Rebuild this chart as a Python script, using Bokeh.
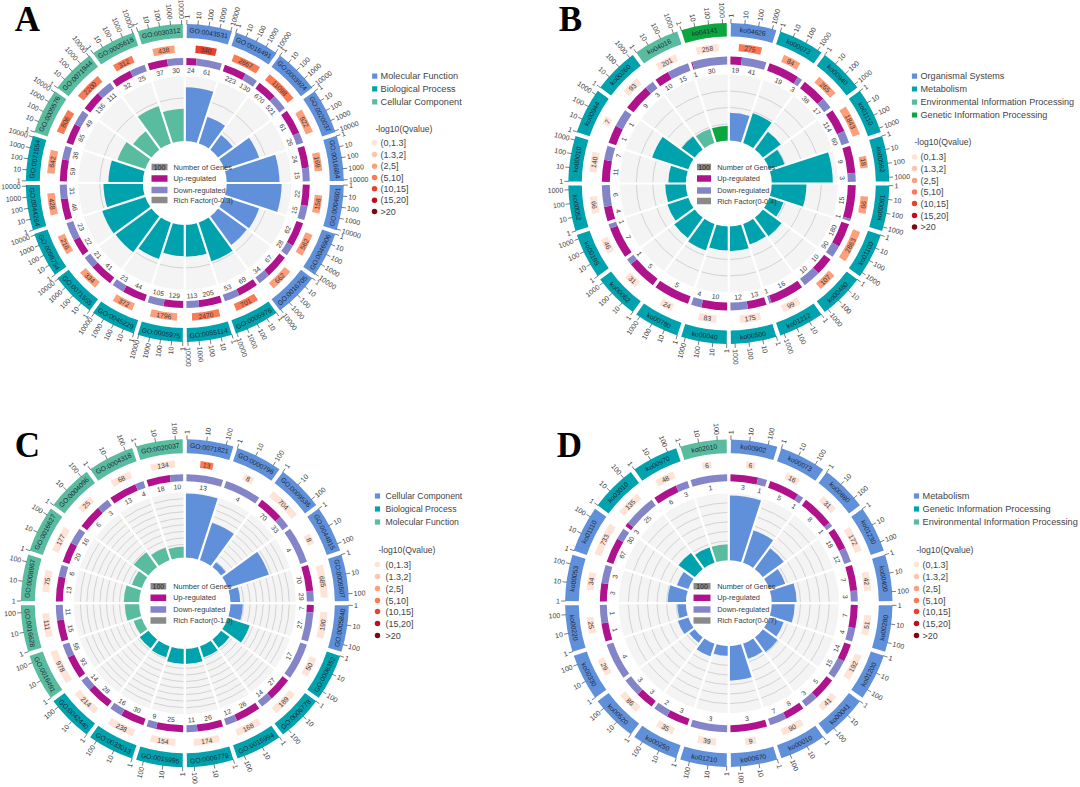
import math
from bokeh.plotting import figure
from bokeh.models import Range1d
from bokeh.core.properties import value
from bokeh.embed import file_html
from bokeh.resources import INLINE

# ---------- data ----------
A_ids = ["GO:0043531","GO:0016491","GO:0003924","GO:0020037","GO:0016684","GO:0004601","GO:0046906","GO:0016705","GO:0005976","GO:0055114","GO:0005975","GO:0045229","GO:0071555","GO:0098754","GO:0044264","GO:0071554","GO:0005576","GO:0071944","GO:0005618","GO:0030312"]
A_cat = [0,0,0,0,0,0,0,0,1,1,1,1,1,1,1,1,2,2,2,2]
A_q = [340,2667,11098,922,169,158,562,662,701,2470,1796,372,334,216,428,642,806,2200,312,438]
A_qclass = [4,3,3,2,2,2,2,2,3,3,2,2,2,2,2,2,3,3,3,2]
A_up = [24,223,670,61,24,22,62,67,69,205,129,44,41,22,46,59,65,136,32,37]
A_down = [61,130,521,26,15,15,28,34,53,113,105,23,21,23,31,36,49,111,25,30]
A_rich = [.25,.13,.085,.17,.245,.255,.17,.165,.19,.148,.145,.178,.206,.21,.183,.16,.136,.106,.182,.15]
A_ticks = ["1","10","100","1000","10000"]
A_groups = ["Molecular Function","Biological Process","Cellular Component"]

B_ids = ["ko04626","ko00073","ko00940","ko01110","ko00592","ko00061","ko01100","ko00480","ko01212","ko00500","ko00040","ko00780","ko00062","ko00195","ko00052","ko00010","ko00944","ko00260","ko04016","ko04141"]
B_cat = [0]+[1]*17+[2,3]
B_q = [275,84,265,1843,18,66,2863,107,99,175,83,24,31,46,66,140,7,93,201,258]
B_qclass = [3,2,2,2,2,2,2,2,0,0,0,0,0,0,0,0,0,0,0,0]
B_up = [19,19,38,114,9,15,180,10,16,13,10,5,5,7,4,11,1,9,10,1]
B_down = [41,3,17,60,3,1,90,10,1,12,4,0,1,1,6,7,1,3,15,30]
B_rich = [.168,.19,.133,.097,.37,.21,.09,.14,.13,.15,.146,.168,.153,.133,.125,.106,.23,.097,.09,.09]
B_ticks = ["1","10","100","1000"]
B_groups = ["Organismal Systems","Metabolism","Environmental Information Processing","Genetic Information Processing"]

C_ids = ["GO:0071821","GO:0000796","GO:0009536","GO:0044815","GO:0009507","GO:0005840","GO:0006352","GO:0006778","GO:0015994","GO:0006779","GO:0015995","GO:0033013","GO:0042440","GO:0016491","GO:0016628","GO:0008967","GO:0016627","GO:0004096","GO:0004318","GO:0020037"]
C_cat = [0]*6+[1]*7+[2]*7
C_q = [13,8,704,8,685,190,50,189,168,174,154,238,214,978,111,75,177,25,68,134]
C_qclass = [3]+[0]*19
C_up = [0,0,70,0,70,7,0,27,26,26,25,30,28,93,15,13,20,6,13,18]
C_down = [13,4,33,4,29,27,17,14,12,11,9,16,14,55,11,6,16,3,4,10]
C_rich = [.98,.6,.09,.66,.15,.19,.35,.16,.18,.23,.23,.18,.165,.13,.22,.235,.16,.28,.2,.17]
C_ticks = ["1","10","100"]
C_groups = ["Cellular Component","Biological Process","Molecular Function"]

D_ids = ["ko00902","ko00073","ko00880","ko01230","ko00400","ko00280","ko01200","ko00041","ko00010","ko00670","ko01210","ko00250","ko00520","ko00330","ko00220","ko00053","ko01110","ko03010","ko00970","ko02010"]
D_cat = [0]*17+[1,1,2]
D_q = [6,16,31,172,42,51,192,41,90,9,39,35,86,29,25,34,733,135,48,6]
D_qclass = [0]*20
D_up = [3,5,8,18,7,7,14,5,8,3,0,3,3,0,1,3,67,3,6,0]
D_down = [1,1,1,12,3,4,15,3,7,0,3,2,3,4,1,3,30,25,3,1]
D_rich = [.675,.355,.27,.175,.26,.24,.157,.19,.167,.36,.1,.14,.07,.115,.09,.19,.125,.21,.167,.167]
D_ticks = ["1","10","100"]
D_groups = ["Metabolism","Genetic Information Processing","Environmental Information Processing"]

center_labels = ["Number of Genes","Up-regulated","Down-regulated"]
q_labels = ["(0,1.3]","(1.3,2]","(2,5]","(5,10]","(10,15]","(15,20]",">20"]
q_colors = ["#fee3d6","#fcc5ae","#fc9f7a","#fb7a56","#e8422e","#c20d20","#7f0613"]

# ---------- styles / layout ----------
BLUE, TEAL, MINT, GREEN = "#6090d9", "#00a3ad", "#5abc9e", "#0ba63e"
UP, DOWN, GREY = "#b0118c", "#8484c8", "#8a8a8a"
FONT = value("Liberation Sans")
INK = "#3a3a3a"

panels = [
 dict(letter="A", lx=27, ly=19, cx=184.3, cy=182.5, r1=(145,159), r2=(130.5,138), r3=(118,125), bg=106.5, hole=42,
      ids=A_ids, cat=A_cat, q=A_q, qc=A_qclass, up=A_up, down=A_down, rich=A_rich, ticks=A_ticks, groups=A_groups,
      colors=[BLUE,TEAL,MINT], rmax=.3, grid=[.1,.2], axmax=4.1, qscale=8.2, rich_label="Rich Factor(0-0.3)",
      box=(151,167), ctext=173, crow=[166.5,178,189.5,199.5], gsize="9.2px",
      sq=374.2, stext=380, srow=[75.7,88.3,101.3], ltitle=(375,128.3), crcl=374, ctxt=380,
      qrow=[142.3,154,165.7,177,188.3,199.7,211]),
 dict(letter="B", lx=570, ly=19, cx=728.3, cy=183, r1=(147,160.5), r2=(132.5,140), r3=(119,127), bg=109, hole=43,
      ids=B_ids, cat=B_cat, q=B_q, qc=B_qclass, up=B_up, down=B_down, rich=B_rich, ticks=B_ticks, groups=B_groups,
      colors=[BLUE,TEAL,MINT,GREEN], rmax=.4, grid=[.1,.2,.3], axmax=3.3, qscale=9.3, rich_label="Rich Factor(0-0.4)",
      box=(696.5,710.5), ctext=716.7, crow=[166.5,178,190,200.5], gsize="9.1px",
      sq=914, stext=920, srow=[75.7,88.5,101.7,114.5], ltitle=(914,141.5), crcl=914, ctxt=920,
      qrow=[156.5,168,180,191.5,203,215,226.5]),
 dict(letter="C", lx=27, ly=445, cx=184.3, cy=602.7, r1=(150,164), r2=(136,143), r3=(122,129), bg=111, hole=45.7,
      ids=C_ids, cat=C_cat, q=C_q, qc=C_qclass, up=C_up, down=C_down, rich=C_rich, ticks=C_ticks, groups=C_groups,
      colors=[BLUE,TEAL,MINT], rmax=1.0, grid=[.1,.2,.3,.4,.5,.6,.7,.8,.9], axmax=2.37, qscale=11.5, rich_label="Rich Factor(0-1.0)",
      box=(150,165.7), ctext=172.7, crow=[585.7,597.3,609,620], gsize="8.7px",
      sq=377, stext=385, srow=[495.5,508.5,521.5], ltitle=(378,549), crcl=377, ctxt=385,
      qrow=[564,576,588,600,611,623,635]),
 dict(letter="D", lx=569, ly=445, cx=728.3, cy=602.7, r1=(150,163.7), r2=(136,143), r3=(122,129), bg=110, hole=43,
      ids=D_ids, cat=D_cat, q=D_q, qc=D_qclass, up=D_up, down=D_down, rich=D_rich, ticks=D_ticks, groups=D_groups,
      colors=[BLUE,TEAL,MINT], rmax=.7, grid=[.1,.2,.3,.4,.5,.6], axmax=2.5, qscale=11.6, rich_label="Rich Factor(0-0.7)",
      box=(693,710), ctext=716.7, crow=[585.7,597.3,609,620], gsize="9.2px",
      sq=916, stext=922, srow=[495.5,508.5,521.5], ltitle=(916,549), crcl=916, ctxt=922,
      qrow=[564,576,588,600,611,623,635]),
]

H = 787
p = figure(width=1080, height=787, x_range=Range1d(0,1080), y_range=Range1d(0,787),
           output_backend="svg", toolbar_location=None, x_axis_type=None, y_axis_type=None,
           min_border=0, outline_line_color=None, background_fill_color="white")
p.grid.visible = False

def Y(v):
    return H - v

def tangent(phi):
    s = math.sin(phi)
    return phi - math.pi/2 if s >= -1e-9 else phi + math.pi/2

GAP = math.radians(1.5)

def wedges(cx, cy, r0, r1, spans, colors, alpha=1.0):
    """spans: clockwise-from-top angle pairs"""
    p.annular_wedge(x=[cx]*len(spans), y=[Y(cy)]*len(spans), inner_radius=r0, outer_radius=r1,
                    start_angle=[math.pi/2-b for a,b in spans], end_angle=[math.pi/2-a for a,b in spans],
                    fill_color=colors, line_color=None, fill_alpha=alpha)

def texts(xs, ys, labels, angles, size, align="center", color=INK, base="middle"):
    if not labels:
        return
    p.text(x=xs, y=[Y(v) for v in ys], text=labels, angle=angles, text_font=FONT, text_font_size=size,
           text_align=align, text_baseline=base, text_color=color)

def polar(cx, cy, r, th):
    return cx + r*math.sin(th), cy - r*math.cos(th)

for P in panels:
    cx, cy = P["cx"], P["cy"]
    n = len(P["ids"])
    step = 2*math.pi/n
    spans = [(i*step+GAP/2, (i+1)*step-GAP/2) for i in range(n)]
    mids = [(a+b)/2 for a,b in spans]

    # inner background, grid, bars
    wedges(cx, cy, P["hole"], P["bg"], [(i*step, (i+1)*step) for i in range(n)], ["#f4f4f4"]*n)
    scale = (P["bg"]-P["hole"])/P["rmax"]
    for g in P["grid"]:
        r = P["hole"]+g*scale
        p.arc(x=[cx]*n, y=[Y(cy)]*n, radius=r,
              start_angle=[math.pi/2-b for a,b in spans], end_angle=[math.pi/2-a for a,b in spans],
              line_color="#c9c9c9", line_width=0.8)
    p.annular_wedge(x=[cx]*n, y=[Y(cy)]*n, inner_radius=P["hole"],
                    outer_radius=[P["hole"]+v*scale for v in P["rich"]],
                    start_angle=[math.pi/2-(i+1)*step for i in range(n)], end_angle=[math.pi/2-i*step for i in range(n)],
                    fill_color=[P["colors"][c] for c in P["cat"]], line_color=None)
    seg = [(polar(cx,cy,P["hole"]-1,i*step), polar(cx,cy,P["bg"]+1,i*step)) for i in range(n)]
    p.segment(x0=[s[0][0] for s in seg], y0=[Y(s[0][1]) for s in seg],
              x1=[s[1][0] for s in seg], y1=[Y(s[1][1]) for s in seg], line_color="white", line_width=2.2)

    # outer band with ids and log axes
    r0, r1 = P["r1"]
    wedges(cx, cy, r0, r1, spans, [P["colors"][c] for c in P["cat"]])
    ids_xy = [polar(cx,cy,(r0+r1)/2,m) for m in mids]
    texts([q[0] for q in ids_xy], [q[1] for q in ids_xy], P["ids"],
          [tangent(math.pi/2-m) for m in mids], "6.8px", color="#1c2a3a")
    tx0, ty0, tx1, ty1 = [], [], [], []
    lr = ([],[],[],[]); ll = ([],[],[],[])
    for (a,b) in spans:
        for j, lab in enumerate(P["ticks"]):
            th = a + (b-a)*j/P["axmax"]
            x0,y0 = polar(cx,cy,r1-0.5,th); x1,y1 = polar(cx,cy,r1+4,th)
            tx0.append(x0); ty0.append(Y(y0)); tx1.append(x1); ty1.append(Y(y1))
            lx,ly = polar(cx,cy,r1+5.2,th)
            phi = math.pi/2-th
            if math.cos(phi) >= 0:
                t = lr; ang = phi
            else:
                t = ll; ang = phi+math.pi
            t[0].append(lx); t[1].append(ly); t[2].append(lab); t[3].append(ang)
    p.segment(x0=tx0,y0=ty0,x1=tx1,y1=ty1,line_color="#444444",line_width=0.7)
    texts(lr[0],lr[1],lr[2],lr[3],"7px",align="left")
    texts(ll[0],ll[1],ll[2],ll[3],"7px",align="right")

    # q-value boxes
    q0, q1 = P["r2"]
    rm = (q0+q1)/2
    qspans = []
    for m, v in zip(mids, P["q"]):
        half = 0.5*max(math.log10(v),0.7)*P["qscale"]/rm
        half = min(half, step/2-GAP)
        qspans.append((m-half, m+half))
    wedges(cx, cy, q0, q1, qspans, [q_colors[c] for c in P["qc"]])
    q_xy = [polar(cx,cy,rm,m) for m in mids]
    texts([q[0] for q in q_xy],[q[1] for q in q_xy],[str(v) for v in P["q"]],
          [tangent(math.pi/2-m) for m in mids],"6.8px")

    # up / down ring
    u0, u1 = P["r3"]
    us, ds, lx, ly, ls, la = [], [], [], [], [], []
    lab_r = u0-5.2
    for (a,b), up, dn in zip(spans, P["up"], P["down"]):
        cut = a+(b-a)*up/(up+dn)
        if up:
            us.append((a,cut))
            m=(a+cut)/2; x,y=polar(cx,cy,lab_r,m)
            lx.append(x);ly.append(y);ls.append(str(up));la.append(tangent(math.pi/2-m))
        if dn:
            ds.append((cut,b))
            m=(cut+b)/2; x,y=polar(cx,cy,lab_r,m)
            lx.append(x);ly.append(y);ls.append(str(dn));la.append(tangent(math.pi/2-m))
    wedges(cx,cy,u0,u1,us,[UP]*len(us))
    wedges(cx,cy,u0,u1,ds,[DOWN]*len(ds))
    texts(lx,ly,ls,la,"6.8px")

    # centre legend
    x0,x1 = P["box"]
    rows = P["crow"]
    p.quad(left=[x0]*4,right=[x1]*4,bottom=[Y(v+3.2) for v in rows],top=[Y(v-3.2) for v in rows],
           fill_color=[GREY,UP,DOWN,GREY],line_color=None)
    texts([(x0+x1)/2],[rows[0]],["100"],[0],"7px",color="#222222")
    texts([P["ctext"]]*4,rows,center_labels+[P["rich_label"]],[0]*4,"7.4px",align="left")

    # side legends
    m = len(P["groups"])
    p.quad(left=[P["sq"]-2.6]*m,right=[P["sq"]+2.6]*m,
           bottom=[Y(v+2.6) for v in P["srow"]],top=[Y(v-2.6) for v in P["srow"]],
           fill_color=P["colors"],line_color=None)
    texts([P["stext"]]*m,P["srow"],P["groups"],[0]*m,P["gsize"],align="left",color="#444444")
    texts([P["ltitle"][0]],[P["ltitle"][1]],["-log10(Qvalue)"],[0],"8.6px",align="left",color="#444444")
    p.scatter(x=[P["crcl"]]*7,y=[Y(v) for v in P["qrow"]],size=5.5,marker="circle",
              fill_color=q_colors,line_color=None)
    texts([P["ctxt"]]*7,P["qrow"],q_labels,[0]*7,"9px",align="left",color="#444444")

    # panel letter
    p.text(x=[P["lx"]],y=[Y(P["ly"])],text=[P["letter"]],text_font=value("Liberation Serif"),
           text_font_style="bold",text_font_size="35px",text_align="center",text_baseline="middle",text_color="#000000")

open("out.html","w").write(file_html(p, INLINE))
